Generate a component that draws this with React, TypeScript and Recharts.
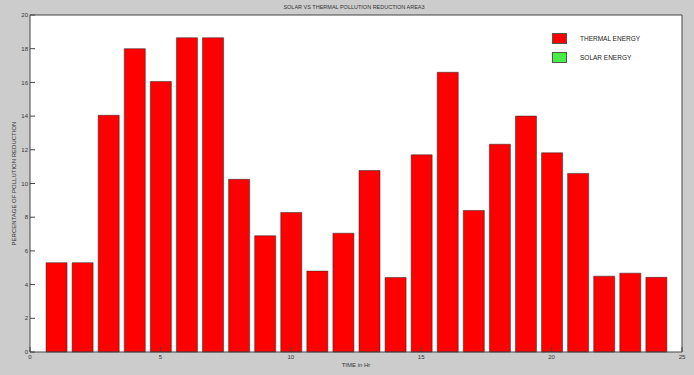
import { BarChart, Bar, XAxis, YAxis, CartesianGrid, Legend } from "recharts";

const hours = [1, 2, 3, 4, 5, 6, 7, 8, 9, 10, 11, 12, 13, 14, 15, 16, 17, 18, 19, 20, 21, 22, 23, 24];
const thermal = [
  5.3, 5.3, 14.05, 18.0, 16.05, 18.65, 18.65, 10.25, 6.9, 8.28, 4.8, 7.05,
  10.77, 4.42, 11.7, 16.6, 8.4, 12.33, 14.0, 11.82, 10.6, 4.5, 4.68, 4.43,
];
const xTicks = [0, 5, 10, 15, 20, 25];
const yTicks = [0, 2, 4, 6, 8, 10, 12, 14, 16, 18, 20];
const legendItems = [
  { name: "THERMAL ENERGY", color: "#ff0000" },
  { name: "SOLAR ENERGY", color: "#44ee44" },
];

const data = hours.map((h, i) => ({ hour: h, thermal: thermal[i] }));

const tickStyle = { fontSize: 6, fill: "#333", fontFamily: "Liberation Sans, Arial" };
const axisColor = "#444";

function LegendBox() {
  return (
    <div style={{ fontFamily: "Liberation Sans, Arial", fontSize: 6.5, color: "#222" }}>
      {legendItems.map((it) => (
        <div key={it.name} style={{ display: "flex", alignItems: "center", height: 19 }}>
          <div
            style={{
              width: 13,
              height: 9,
              background: it.color,
              border: "0.5px solid #555",
              marginRight: 13,
            }}
          />
          <span>{it.name}</span>
        </div>
      ))}
    </div>
  );
}

export default function App() {
  return (
    <div
      style={{
        position: "absolute",
        left: 0,
        top: 0,
        width: 694,
        height: 375,
        background: "#cccccc",
        fontFamily: "Liberation Sans, Arial",
      }}
    >
      <div
        style={{
          position: "absolute",
          top: 4,
          left: 282,
          width: 144,
          textAlign: "center",
          fontSize: 5.5,
          color: "#333",
          whiteSpace: "nowrap",
        }}
      >
        SOLAR VS THERMAL POLLUTION REDUCTION AREA3
      </div>
      <BarChart
        width={694}
        height={375}
        data={data}
        margin={{ top: 0, right: 0, bottom: 0, left: 0 }}
      >
        <CartesianGrid fill="#ffffff" fillOpacity={1} horizontal={false} vertical={false} />
        <XAxis
          dataKey="hour"
          type="number"
          domain={[0, 25]}
          ticks={xTicks}
          allowDataOverflow
          height={23}
          stroke={axisColor}
          tickSize={-5}
          tickMargin={8}
          tick={tickStyle}
          label={{ value: "TIME in Hr", position: "insideBottom", offset: 8, fontSize: 6, fill: "#333" }}
        />
        <XAxis
          xAxisId="top"
          orientation="top"
          type="number"
          domain={[0, 25]}
          ticks={xTicks}
          height={15}
          stroke={axisColor}
          tickSize={-5}
          tick={false}
        />
        <YAxis
          type="number"
          domain={[0, 20]}
          ticks={yTicks}
          width={30}
          stroke={axisColor}
          tickSize={-5}
          tickMargin={7}
          tick={tickStyle}
          label={{
            value: "PERCENTAGE OF POLLUTION REDUCTION",
            angle: -90,
            position: "insideLeft",
            offset: 14,
            fontSize: 6,
            fill: "#333",
            style: { textAnchor: "middle" },
          }}
        />
        <YAxis
          yAxisId="right"
          orientation="right"
          type="number"
          domain={[0, 20]}
          ticks={yTicks}
          width={12}
          stroke={axisColor}
          tickSize={-5}
          tick={false}
        />
        <Legend
          content={<LegendBox />}
          layout="horizontal"
          verticalAlign="middle"
          wrapperStyle={{ position: "absolute", top: 29, left: 552, width: 120 }}
        />
        <Bar
          dataKey="thermal"
          barSize={21}
          fill="#ff0000"
          stroke="#222"
          strokeWidth={0.5}
          isAnimationActive={false}
        />
      </BarChart>
    </div>
  );
}
